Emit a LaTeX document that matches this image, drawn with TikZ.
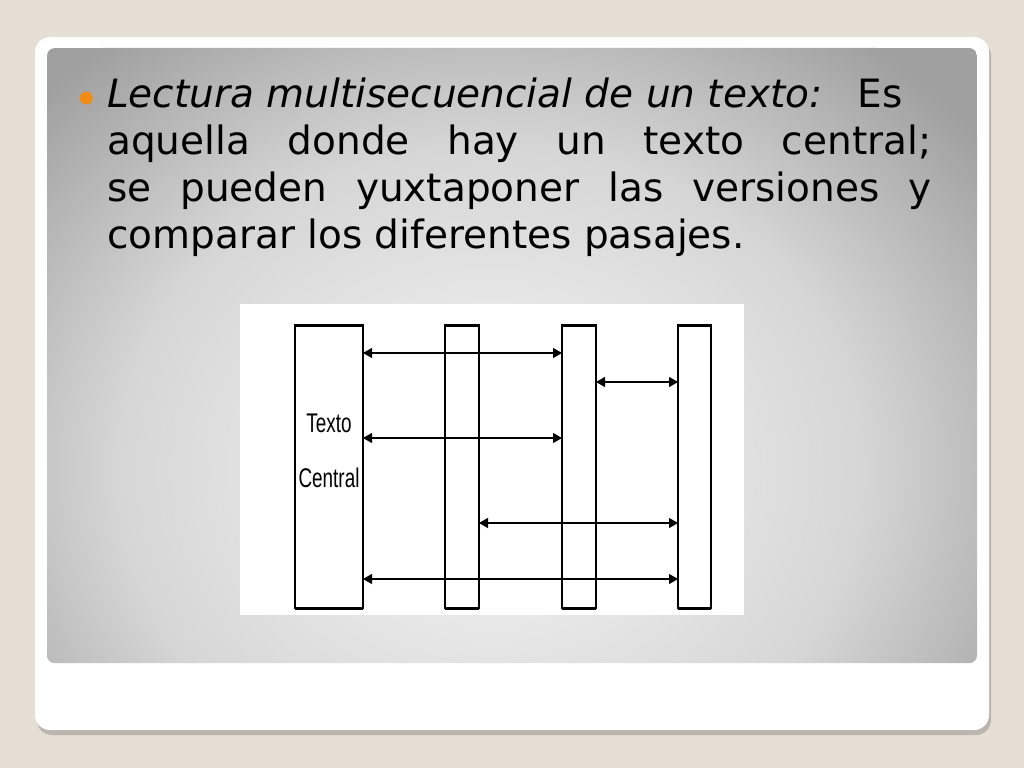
\documentclass[tikz,border=0pt]{standalone}
\usepackage{fontspec}
\setmainfont{DejaVu Sans}
\newfontfamily\arialn[FakeStretch=0.7]{Liberation Sans}
\usetikzlibrary{arrows.meta}
\definecolor{bgbeige}{RGB}{228,222,212}
\definecolor{bulletorange}{RGB}{240,140,20}
\definecolor{gin}{RGB}{236,236,236}
\definecolor{gmid}{RGB}{214,214,214}
\definecolor{gout}{RGB}{160,160,160}
\pgfdeclareradialshading{slidebg}{\pgfpoint{0bp}{0bp}}{color(0bp)=(gin); color(5bp)=(gin); color(15bp)=(gmid); color(25bp)=(gout); color(50bp)=(gout)}
\begin{document}
\begin{tikzpicture}[x=1pt,y=-1pt,
  bar/.style={draw, line width=1.5pt, fill=white, inner sep=0pt, outer sep=0pt, minimum height=283pt},
  edge/.style={line width=3pt},
  arr/.style={{Triangle[length=9pt,width=10pt]}-{Triangle[length=9pt,width=10pt]}, line width=1.2pt},
  maintext/.style={anchor=base west, inner sep=0pt, font=\fontsize{39}{47}\selectfont},
  barlabel/.style={inner sep=0pt, font=\arialn\fontsize{27}{32}\selectfont}]
\useasboundingbox (0,0) rectangle (1024,768);
\fill[bgbeige] (0,0) rectangle (1024,768);
% frame shadow and white frame
\fill[black, opacity=0.18, rounded corners=15pt] (37,41) rectangle (991,735);
\fill[white, rounded corners=15pt] (35,37) rectangle (989,730);
% gray gradient panel
\begin{scope}
  \clip[rounded corners=8pt] (47,48) rectangle (977,663);
  \fill[gout] (47,48) rectangle (977,663);
  \shade[shading=slidebg] (490,470) ellipse [x radius=620pt, y radius=540pt];
\end{scope}
% bullet and text
\node[circle, fill=bulletorange, minimum size=13pt, inner sep=0pt] (bullet) at (86,98) {};
\node[maintext] (l1) at (107,107) {\itshape Lectura multisecuencial de un texto:\hspace{35pt}\upshape Es};
\node[maintext] (l2) at (107,154) {\makebox[824pt][s]{aquella donde hay un texto central;}};
\node[maintext] (l3) at (107,201) {\makebox[824pt][s]{se pueden yuxtaponer las versiones y}};
\node[maintext] (l4) at (107,248) {comparar los diferentes pasajes.};
% diagram
\node[fill=white, inner sep=0pt, minimum width=504pt, minimum height=311pt] (panel) at (492,459.5) {};
\node[bar, minimum width=68pt] (b1) at (329,466.5) {};
\node[bar, minimum width=34pt] (b2) at (462,466.5) {};
\node[bar, minimum width=34pt] (b3) at (579,466.5) {};
\node[bar, minimum width=33pt] (b4) at (694.5,466.5) {};
\foreach \b in {b1,b2,b3,b4}{
  \draw[edge] (\b.north west) -- (\b.north east);
  \draw[edge] (\b.south west) -- (\b.south east);
}
\node[barlabel] (t1) at (329,423) {Texto};
\node[barlabel] (t2) at (329,478) {Central};
\draw[arr] ([yshift=-28pt]b1.north east) -- ([yshift=-28pt]b3.north west);
\draw[arr] ([yshift=-57pt]b3.north east) -- ([yshift=-57pt]b4.north west);
\draw[arr] ([yshift=-113pt]b1.north east) -- ([yshift=-113pt]b3.north west);
\draw[arr] ([yshift=-198pt]b2.north east) -- ([yshift=-198pt]b4.north west);
\draw[arr] ([yshift=-254pt]b1.north east) -- ([yshift=-254pt]b4.north west);
\end{tikzpicture}
\end{document}
